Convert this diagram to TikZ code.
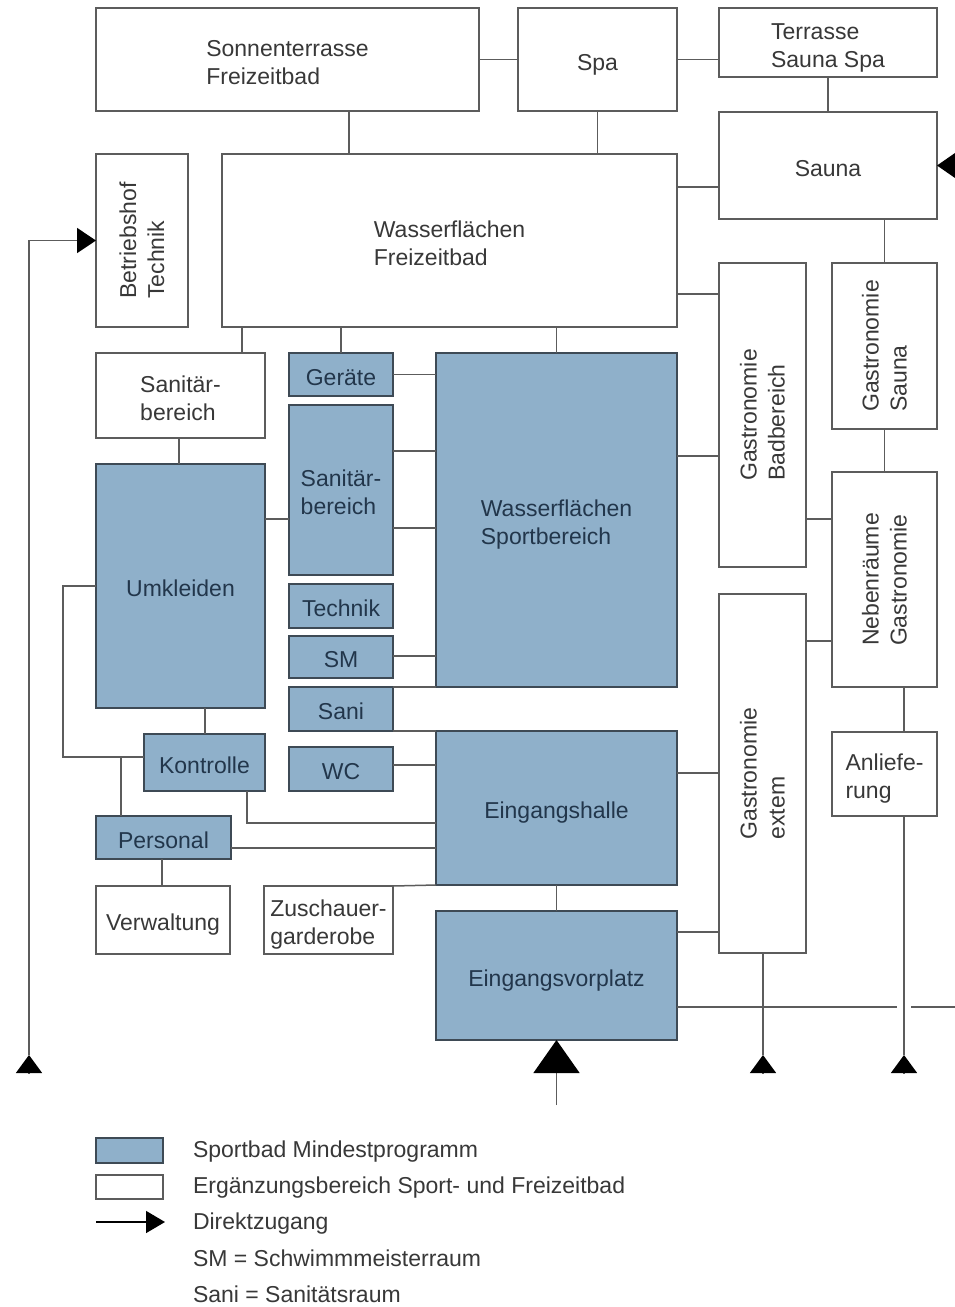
\documentclass[tikz,border=0pt]{standalone}
\usepackage{fontspec}
\setmainfont{Liberation Sans}
\usetikzlibrary{arrows.meta}
\definecolor{sportblue}{HTML}{8FB0CA}
\definecolor{lncol}{HTML}{5C5C5C}
\definecolor{bluebd}{HTML}{3E4A55}
\definecolor{txtgray}{HTML}{383838}
\definecolor{txtblue}{HTML}{22364B}
\begin{document}
\begin{tikzpicture}[x=1pt,y=-1pt,
  every node/.style={inner sep=0pt, outer sep=0pt},
  base/.style={font=\fontsize{23}{28}\selectfont, align=left},
  one/.style={text height=21pt, text depth=0pt},
  two/.style={text height=49pt, text depth=0pt},
  wbox/.style={base, draw=lncol, line width=1.5pt, fill=white, text=txtgray},
  bbox/.style={base, draw=bluebd, line width=1.5pt, fill=sportblue, text=txtblue},
  rlbl/.style={base, rotate=90, text=txtgray},
  legtxt/.style={base, anchor=west, text=txtgray},
  conn/.style={draw=lncol, line width=1.5pt},
  entry/.style={conn, -{Triangle[length=18pt,width=26pt,color=black]}},
]
\useasboundingbox (0,0) rectangle (954,1307);
\fill[white] (0,0) rectangle (954,1307);

% ---------- boxes ----------
\node[wbox, two, minimum width=383pt, minimum height=103pt] (sonn) at (287.5,59.5) {Sonnenterrasse\\Freizeitbad};
\node[wbox, one, minimum width=159pt, minimum height=103pt] (spa) at (597.5,59.5) {Spa};
\node[wbox, two, minimum width=218pt, minimum height=69pt] (terr) at (828,42.5) {Terrasse\\Sauna Spa};
\node[wbox, one, minimum width=218pt, minimum height=107pt] (sauna) at (828,165.5) {Sauna};
\node[wbox, minimum width=92pt, minimum height=173pt] (betr) at (142,240.5) {};
\node[rlbl] (betrT) at (betr) {Betriebshof\\Technik};
\node[wbox, two, minimum width=455pt, minimum height=173pt] (wff) at (449.5,240.5) {Wasserflächen\\Freizeitbad};
\node[wbox, minimum width=105pt, minimum height=166pt] (gsau) at (884.5,346) {};
\node[rlbl] (gsauT) at (gsau) {Gastronomie\\Sauna};
\node[wbox, minimum width=87pt, minimum height=304pt] (gbad) at (762.5,415) {};
\node[rlbl] (gbadT) at (gbad) {Gastronomie\\Badbereich};
\node[wbox, two, minimum width=169pt, minimum height=85pt] (sanw) at (180.5,395.5) {Sanitär-\\bereich};
\node[bbox, one, minimum width=104pt, minimum height=43pt] (ger) at (341,374.5) {Geräte};
\node[bbox, two, minimum width=241pt, minimum height=334pt] (wfs) at (556.5,520) {Wasserflächen\\Sportbereich};
\node[bbox, two, minimum width=104pt, minimum height=170pt] (sanb) at (341,490) {Sanitär-\\bereich};
\node[bbox, one, minimum width=169pt, minimum height=244pt] (umk) at (180.5,586) {Umkleiden};
\node[wbox, minimum width=105pt, minimum height=215pt] (neb) at (884.5,579.5) {};
\node[rlbl] (nebT) at (neb) {Nebenräume\\Gastronomie};
\node[bbox, one, minimum width=104pt, minimum height=44pt] (tech) at (341,606) {Technik};
\node[bbox, one, minimum width=104pt, minimum height=42pt] (sm) at (341,657) {SM};
\node[wbox, minimum width=87pt, minimum height=359pt] (gext) at (762.5,773.5) {};
\node[rlbl] (gextT) at (gext) {Gastronomie\\extem};
\node[bbox, one, minimum width=104pt, minimum height=44pt] (sani) at (341,709) {Sani};
\node[bbox, one, minimum width=121pt, minimum height=57pt] (kon) at (204.5,762.5) {Kontrolle};
\node[bbox, one, minimum width=241pt, minimum height=154pt] (eh) at (556.5,808) {Eingangshalle};
\node[wbox, two, minimum width=105pt, minimum height=84pt] (anl) at (884.5,774) {Anliefe-\\rung};
\node[bbox, one, minimum width=104pt, minimum height=44pt] (wc) at (341,769) {WC};
\node[bbox, one, minimum width=135pt, minimum height=43pt] (pers) at (163.5,837.5) {Personal};
\node[wbox, one, minimum width=134pt, minimum height=68pt] (verw) at (163,920) {Verwaltung};
\node[wbox, two, minimum width=129pt, minimum height=68pt] (zus) at (328.5,920) {Zuschauer-\\garderobe};
\node[bbox, one, minimum width=241pt, minimum height=129pt] (evp) at (556.5,975.5) {Eingangsvorplatz};

% ---------- free ends ----------
\coordinate (tipL) at (29,1055);
\coordinate (baseL) at (29,1073);
\coordinate (tipG) at (763,1055);
\coordinate (baseG) at (763,1073);
\coordinate (tipA) at (904,1055);
\coordinate (baseA) at (904,1073);
\coordinate (entry) at (556.5,1105);
\coordinate (saunaIn) at (985,165.5);
\coordinate (loopX) at (63,757);
\coordinate (persJ) at (121,757);
\coordinate (gapL) at (897,1007);
\coordinate (gapR) at (911,1007);
\coordinate (edgeR) at (960,1007);

% ---------- connectors ----------
\draw[conn] (sonn.east) -- (spa.west);
\draw[conn] (spa.east) -- (spa.east -| terr.west);
\draw[conn] (terr.south) -- (sauna.north);
\draw[conn] (spa.south) -- (spa.south |- wff.north);
\draw[conn] (sonn.south -| 349,0) -- (wff.north -| 349,0);
\draw[conn] (wff.east |- 0,187) -- (sauna.west |- 0,187);
\draw[conn] (sauna.south -| gsau.north) -- (gsau.north);
\draw[conn] (wff.east |- 0,294) -- (gbad.west |- 0,294);
\draw[conn] (wfs.east |- 0,456) -- (gbad.west |- 0,456);
\draw[conn] (gsau.south) -- (neb.north);
\draw[conn] (gbad.east |- 0,519) -- (neb.west |- 0,519);
\draw[conn] (gext.east |- 0,641) -- (neb.west |- 0,641);
\draw[conn] (neb.south -| 904,0) -- (anl.north -| 904,0);
\draw[conn] (anl.south -| 904,0) -- (tipA);
\draw[conn] (eh.east |- 0,773) -- (gext.west |- 0,773);
\draw[conn] (evp.east |- 0,932) -- (gext.west |- 0,932);
\draw[conn] (evp.east |- 0,1007) -- (gapL);
\draw[conn] (gapR) -- (edgeR);
\draw[conn] (gext.south -| 763,0) -- (tipG);
\draw[conn] (eh.south) -- (evp.north);

\draw[conn] (wff.south -| 242,0) -- (sanw.north -| 242,0);
\draw[conn] (wff.south -| ger.north) -- (ger.north);
\draw[conn] (wff.south -| wfs.north) -- (wfs.north);
\draw[conn] (ger.east) -- (ger.east -| wfs.west);
\draw[conn] (sanb.east |- 0,451) -- (wfs.west |- 0,451);
\draw[conn] (sanb.east |- 0,528) -- (wfs.west |- 0,528);
\draw[conn] (sanw.south -| 179,0) -- (umk.north -| 179,0);
\draw[conn] (umk.east |- 0,519) -- (sanb.west |- 0,519);
\draw[conn] (sm.east |- 0,656) -- (wfs.west |- 0,656);
\draw[conn] (sani.north east) -- (wfs.south west);
\draw[conn] (sani.south east) -- (eh.north west);
\draw[conn] (wc.east |- 0,765) -- (eh.west |- 0,765);
\draw[conn] (umk.south -| 205,0) -- (kon.north -| 205,0);
\draw[conn] (umk.west) -| (loopX) -- (kon.west |- loopX);
\draw[conn] (persJ) -- (persJ |- pers.north);
\draw[conn] (kon.south -| 247,0) |- (eh.west |- 0,823);
\draw[conn] (pers.east |- 0,848) -- (eh.west |- 0,848);
\draw[conn] (pers.south -| 162,0) -- (verw.north -| 162,0);
\draw[conn] (zus.north east) -- (eh.south west);

% ---------- access arrows ----------
\draw[conn, -{Triangle[length=19pt,width=25pt,color=black]}] (tipL) |- (betr.west);
\draw[conn, -{Triangle[length=19pt,width=26pt,color=black]}] (saunaIn) -- (sauna.east);
\draw[entry] (baseL) -- (tipL);
\draw[entry] (baseG) -- (tipG);
\draw[entry] (baseA) -- (tipA);
\draw[conn, -{Triangle[length=33pt,width=46pt,color=black]}] (entry) -- (evp.south);

% ---------- legend ----------
\node[bbox, minimum width=67pt, minimum height=25pt] (legB) at (129.5,1150.5) {};
\node[wbox, minimum width=67pt, minimum height=24pt] (legW) at (129.5,1187) {};
\coordinate (legA1) at (96,1222);
\coordinate (legA2) at (165,1222);
\draw[conn, draw=black, -{Triangle[length=19pt,width=22pt,color=black]}] (legA1) -- (legA2);
\node[legtxt] (lt1) at (193,1152) {Sportbad Mindestprogramm};
\node[legtxt] (lt2) at (193,1188) {Ergänzungsbereich Sport- und Freizeitbad};
\node[legtxt] (lt3) at (193,1224) {Direktzugang};
\node[legtxt] (lt4) at (193,1258) {SM = Schwimmmeisterraum};
\node[legtxt] (lt5) at (193,1294) {Sani = Sanitätsraum};
\end{tikzpicture}
\end{document}
